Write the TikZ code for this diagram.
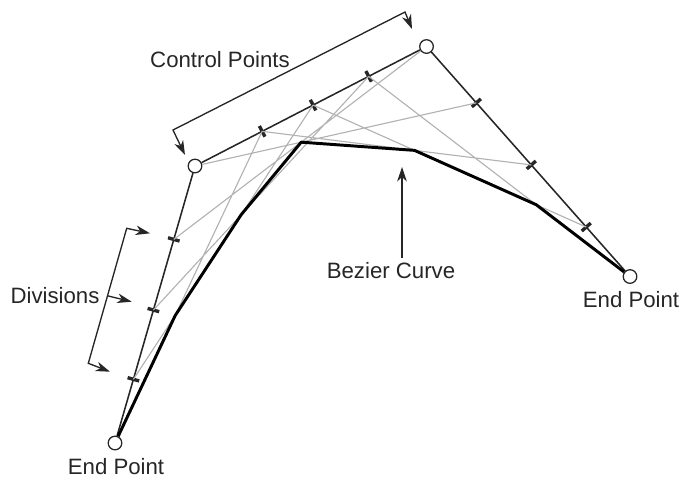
\documentclass[tikz,border=0pt]{standalone}
\usepackage{fontspec}
\setmainfont{Liberation Sans}
\usetikzlibrary{calc,arrows.meta}

\begin{document}
\begin{tikzpicture}[x=0.025cm, y=-0.025cm,
    >={Stealth[length=0.36cm, width=0.24cm, inset=0.11cm]},
    every node/.style={font=\fontsize{15.8}{19}\selectfont, text=black!85},
    ctrl/.style={circle, draw=black!85, fill=white, line width=0.9pt, minimum size=0.34cm, inner sep=0pt},
    divmark/.style={fill=black!85, sloped, minimum width=2.4pt, minimum height=0.3cm, inner sep=0pt},
    leg/.style={black!85, line width=1.1pt},
    strand/.style={gray!60, line width=0.8pt},
    curve/.style={black, line width=2.1pt, line join=round},
    callout/.style={black!85, line width=0.95pt}]
    \useasboundingbox (0,0) rectangle (681,483);

    % End points and control points
    \node[ctrl] (P0) at (115,443) {};
    \node[ctrl] (P1) at (195,166) {};
    \node[ctrl] (P2) at (426.5,46.5) {};
    \node[ctrl] (P3) at (630,276.5) {};

    % Divisions on the control polygon
    \path (P0.center) -- (P1.center) node[divmark, pos=.23] (a1) {} node[divmark, pos=.48] (a2) {} node[divmark, pos=.735] (a3) {};
    \path (P1.center) -- (P2.center) node[divmark, pos=.29] (b1) {} node[divmark, pos=.51] (b2) {} node[divmark, pos=.75] (b3) {};
    \path (P2.center) -- (P3.center) node[divmark, pos=.245] (c1) {} node[divmark, pos=.515] (c2) {} node[divmark, pos=.785] (c3) {};

    % Control polygon
    \draw[leg] (P0) -- (P1) (P1) -- (P2) (P2) -- (P3);

    % Strands between divisions
    \draw[strand] (P0) -- (b1.center) (a1.center) -- (b2.center) (a2.center) -- (b3.center) (a3.center) -- (P2);
    \draw[strand] (P1) -- (c1.center) (b1.center) -- (c2.center) (b2.center) -- (c3.center) (b3.center) -- (P3);

    % Curve through the crossings
    \coordinate (k1) at (intersection of P0.center--b1.center and a1.center--b2.center);
    \coordinate (k2) at (intersection of a1.center--b2.center and a2.center--b3.center);
    \coordinate (k3) at (intersection of a3.center--P2.center and P1.center--c1.center);
    \coordinate (k4) at (intersection of b1.center--c2.center and b2.center--c3.center);
    \coordinate (k5) at (intersection of b2.center--c3.center and b3.center--P3.center);
    \draw[curve] (P0) -- (k1) -- (k2) -- (k3) -- (k4) -- (k5) -- (P3);

    % Labels
    \node (cp) at (220,60) {Control Points};
    \node (dv) at (55,296) {Divisions};
    \node (bz) at (391,271) {Bezier Curve};
    \node (e0) at (116,467) {End Point};
    \node (e3) at (631,300) {End Point};

    % Control points bracket
    \coordinate (cpLtip) at (185,155);
    \coordinate (cpL) at (173,130);
    \coordinate (cpR) at (405,12);
    \coordinate (cpRtip) at (412,29);
    \draw[callout, <->] (cpLtip) -- (cpL) -- (cpR) -- (cpRtip);

    % Divisions bracket
    \coordinate (dvT) at (126.7,228.3);
    \coordinate (dvB) at (88.3,363.3);
    \coordinate (dvM) at ($(dvT)!0.5!(dvB)$);
    \coordinate (dvTtip) at (150,233.3);
    \coordinate (dvMtip) at (131.7,301.7);
    \coordinate (dvBtip) at (110,371.7);
    \draw[callout, <->] (dvTtip) -- (dvT) -- (dvB) -- (dvBtip);
    \draw[callout, ->] (dvM) -- (dvMtip);

    % Curve arrow
    \coordinate (bztip) at (402,167);
    \draw[callout, ->] (bz.north -| bztip) -- (bztip);
\end{tikzpicture}
\end{document}
